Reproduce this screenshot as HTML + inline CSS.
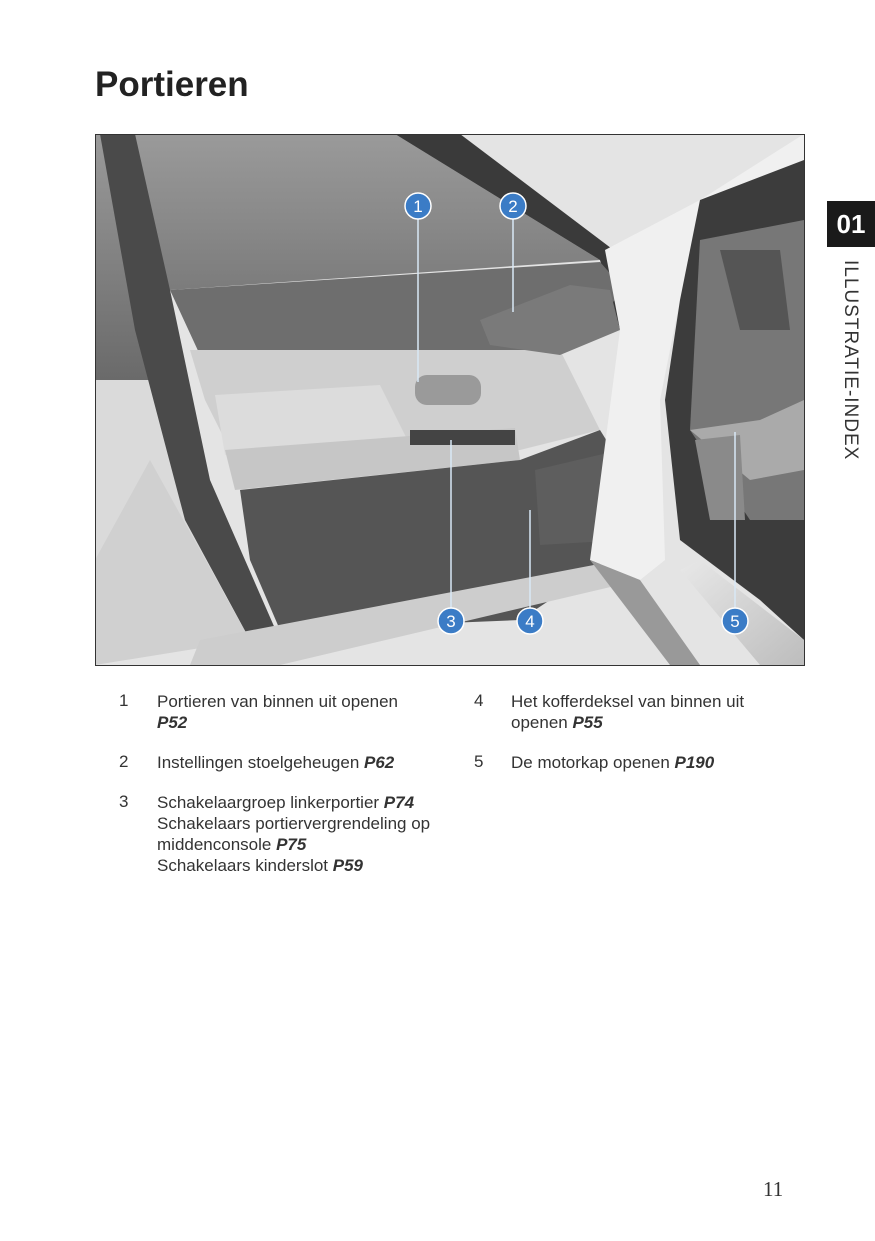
<!DOCTYPE html>
<html><head><meta charset="utf-8"><style>
html,body{margin:0;padding:0;background:#fff}
body{width:875px;height:1241px;position:relative;overflow:hidden;font-family:"Liberation Sans",sans-serif;color:#222}
h1{position:absolute;left:95px;top:65px;margin:0;font-size:35px;font-weight:bold;color:#222}
.tab{position:absolute;left:827px;top:201px;width:48px;height:46px;background:#1a1a1a;color:#fff;font-weight:bold;font-size:26px;text-align:center;line-height:46px}
.vt{position:absolute;left:839px;top:260px;writing-mode:vertical-rl;font-size:19px;letter-spacing:1px;color:#333}
.it{position:absolute;font-size:17px;line-height:21px;color:#333}
.n{position:absolute;font-size:17px;color:#333}
b{font-style:italic}
.pg{position:absolute;left:763px;top:1177px;font-family:"Liberation Serif",serif;font-size:21px;color:#333}
</style></head><body>
<h1>Portieren</h1>
<div class="tab">01</div>
<div class="vt">ILLUSTRATIE-INDEX</div>
<svg style="position:absolute;left:95px;top:134px" width="710" height="532" viewBox="95 134 710 532">
<defs>
<linearGradient id="w" x1="0" y1="0" x2="0" y2="1"><stop offset="0" stop-color="#9a9a9a"/><stop offset="1" stop-color="#6a6a6a"/></linearGradient>
<linearGradient id="s" x1="0" y1="0" x2="1" y2="1"><stop offset="0" stop-color="#e8e8e8"/><stop offset="1" stop-color="#bdbdbd"/></linearGradient>
</defs>
<rect x="95" y="134" width="710" height="532" fill="#e4e4e4"/>
<polygon points="95,134 395,134 600,260 170,290 150,380 95,380" fill="url(#w)"/>
<polygon points="95,380 150,380 240,640 95,665" fill="#dadada"/>
<polygon points="100,134 135,134 170,290 210,480 280,640 250,640 185,520 135,330" fill="#4a4a4a"/>
<polygon points="395,134 460,134 640,270 620,330 600,260" fill="#3a3a3a"/>
<polygon points="170,290 600,262 625,290 560,355 200,355" fill="#6e6e6e"/>
<polygon points="190,350 560,350 600,430 520,450 230,450 205,400" fill="#cfcfcf"/>
<polygon points="480,320 570,285 610,290 620,330 560,355 490,345" fill="#7a7a7a"/>
<polygon points="215,395 380,385 410,445 225,455" fill="#dcdcdc"/>
<rect x="415" y="375" width="66" height="30" rx="12" fill="#9a9a9a"/>
<polygon points="225,450 515,428 520,460 235,490" fill="#c6c6c6"/>
<rect x="410" y="430" width="105" height="15" fill="#444"/>
<polygon points="240,490 520,460 600,430 625,470 610,560 520,620 280,630 250,560" fill="#555"/>
<polygon points="535,470 620,450 625,540 540,545" fill="#5e5e5e"/>
<polygon points="150,460 250,640 95,665 95,560" fill="#d0d0d0"/>
<polygon points="200,640 620,560 640,580 280,665 190,665" fill="#cdcdcd"/>
<polygon points="605,250 700,200 804,134 804,160 730,220 680,300 660,400 665,560 640,580 590,560 620,330" fill="#f0f0f0"/>
<polygon points="700,200 804,160 804,640 760,600 680,540 665,400 680,300" fill="#3c3c3c"/>
<polygon points="700,240 804,220 804,520 750,520 690,430" fill="#777"/>
<polygon points="720,250 780,250 790,330 740,330" fill="#555"/>
<polygon points="690,430 760,420 804,400 804,470 750,480" fill="#aaa"/>
<polygon points="695,440 740,435 745,520 710,520" fill="#8a8a8a"/>
<polygon points="680,570 700,560 804,640 804,665 760,665" fill="url(#s)"/>
<polygon points="590,560 640,580 700,665 670,665" fill="#999"/>
<g stroke="#d8e8f6" stroke-width="1.5">
<line x1="418" y1="206" x2="418" y2="382"/>
<line x1="513" y1="206" x2="513" y2="312"/>
<line x1="451" y1="621" x2="451" y2="440"/>
<line x1="530" y1="621" x2="530" y2="510"/>
<line x1="735" y1="621" x2="735" y2="432"/>
</g>
<g fill="#3b7cc6" stroke="#fff" stroke-width="1.5">
<circle cx="418" cy="206" r="13"/><circle cx="513" cy="206" r="13"/><circle cx="451" cy="621" r="13"/><circle cx="530" cy="621" r="13"/><circle cx="735" cy="621" r="13"/>
</g>
<g fill="#fff" font-family="Liberation Sans,sans-serif" font-size="17" text-anchor="middle">
<text x="418" y="212">1</text><text x="513" y="212">2</text><text x="451" y="627">3</text><text x="530" y="627">4</text><text x="735" y="627">5</text>
</g>
<rect x="95.5" y="134.5" width="709" height="531" fill="none" stroke="#333" stroke-width="1"/>
</svg>
<div class="n" style="left:119px;top:691px">1</div>
<div class="it" style="left:157px;top:691px">Portieren van binnen uit openen<br><b>P52</b></div>
<div class="n" style="left:119px;top:752px">2</div>
<div class="it" style="left:157px;top:752px">Instellingen stoelgeheugen <b>P62</b></div>
<div class="n" style="left:119px;top:792px">3</div>
<div class="it" style="left:157px;top:792px">Schakelaargroep linkerportier <b>P74</b><br>Schakelaars portiervergrendeling op<br>middenconsole <b>P75</b><br>Schakelaars kinderslot <b>P59</b></div>
<div class="n" style="left:474px;top:691px">4</div>
<div class="it" style="left:511px;top:691px">Het kofferdeksel van binnen uit<br>openen <b>P55</b></div>
<div class="n" style="left:474px;top:752px">5</div>
<div class="it" style="left:511px;top:752px">De motorkap openen <b>P190</b></div>
<div class="pg">11</div>
</body></html>
